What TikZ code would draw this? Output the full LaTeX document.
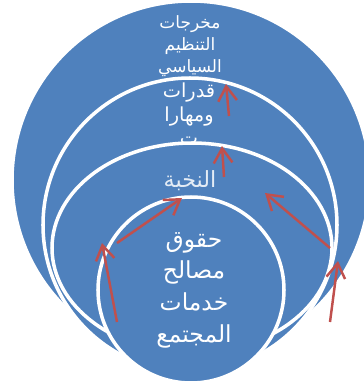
\documentclass[tikz,border=0pt]{standalone}
\usepackage{fontspec}
\usetikzlibrary{arrows.meta}
\TeXXeTstate=1
\newfontfamily\arabicfont[Script=Arabic]{DejaVu Sans}
\newcommand{\artxt}[1]{\beginR #1\endR}
\definecolor{ringblue}{HTML}{4F81BD}
\definecolor{arrred}{HTML}{C0504D}

\begin{document}
\begin{tikzpicture}[x=0.03cm,y=-0.03cm,
   ring/.style={fill=ringblue,draw=white,line width=3pt},
   lbl/.style={text=white,align=center,inner sep=0pt},
   up/.style={draw=arrred,line width=2.1pt,
              -{Straight Barb[length=4.4mm,width=5.6mm]}}]
  \useasboundingbox (0,0) rectangle (364,383);
  \clip (0,0) rectangle (364,383);
  % rings, outer first, each with its text
  \path[ring] (191,180) circle (179);
  \node[lbl,font=\arabicfont\fontsize{14.5}{19}\selectfont] (outputs) at (190,46)
    {\artxt{مخرجات}\\\artxt{التنظيم}\\\artxt{السياسي}};
  \path[ring] (190,225) circle (147);
  \node[lbl,font=\arabicfont\fontsize{16.5}{20}\selectfont] (skills) at (189,114)
    {\artxt{قدرات}\\\artxt{ومهارا}\\\artxt{ت}};
  \path[ring] (192,248) ellipse [x radius=140,y radius=105];
  \node[lbl,text=white!85!ringblue,font=\arabicfont\fontsize{19}{22}\selectfont]
    (elite) at (190,181) {\artxt{النخبة}};
  \path[ring] (191,290) circle (93);
  \node[lbl,font=\arabicfont\fontsize{20}{27}\selectfont] (rights) at (194,290)
    {\artxt{حقوق}\\\artxt{مصالح}\\\artxt{خدمات}\\\artxt{المجتمع}};
  % arrows
  \coordinate (a1) at (229,116); \coordinate (b1) at (226,84);
  \coordinate (a2) at (224,177); \coordinate (b2) at (222,146);
  \coordinate (a3) at (330,248); \coordinate (b3) at (265,193);
  \coordinate (a4) at (117,243); \coordinate (b4) at (182,198);
  \coordinate (a5) at (117,322); \coordinate (b5) at (102,243);
  \coordinate (a6) at (330,322); \coordinate (b6) at (338,261);
  \foreach \i in {1,...,6}
    \draw[up] (a\i) -- (b\i);
\end{tikzpicture}
\end{document}
